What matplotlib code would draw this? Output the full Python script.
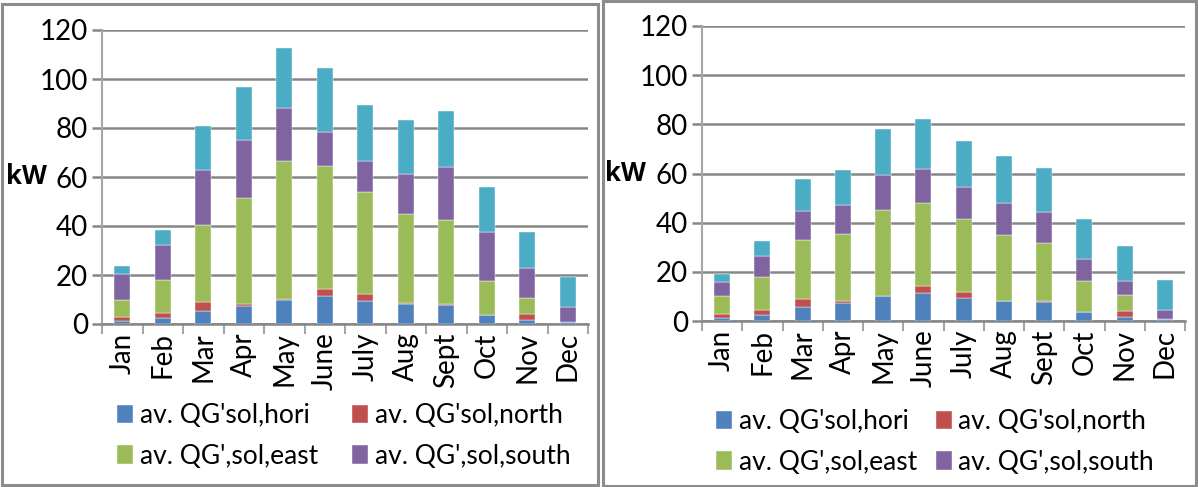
import numpy as np
import matplotlib
matplotlib.use("Agg")
import matplotlib.pyplot as plt
from matplotlib.patches import Rectangle

plt.rcParams['font.family'] = ['Lato', 'DejaVu Sans']

months = ["Jan", "Feb", "Mar", "Apr", "May", "June", "July", "Aug", "Sept", "Oct", "Nov", "Dec"]
series_names = ["av. QG'sol,hori", "av. QG'sol,north", "av. QG',sol,east",
                "av. QG',sol,south", "av. QG',sol,west"]
colors = ["#4F81BD", "#C0504D", "#9BBB59", "#8064A2", "#4BACC6"]

# left chart, kW per series
left_hori = [1.2, 2.3, 5.4, 7.5, 10.0, 11.3, 9.4, 8.2, 7.9, 3.7, 1.6, 0.7]
left_north = [1.7, 2.0, 3.6, 0.7, 0.2, 3.0, 2.7, 0.2, 0.4, 0.1, 2.6, 0.1]
left_east = [7.0, 13.5, 31.5, 43.3, 56.2, 50.2, 41.6, 36.4, 34.0, 13.9, 6.3, 0.0]
left_south = [10.6, 14.3, 22.4, 23.6, 21.6, 13.8, 13.0, 16.3, 21.6, 19.8, 12.3, 6.0]
left_west = [3.1, 6.4, 17.9, 21.5, 24.6, 26.3, 22.7, 22.3, 23.1, 18.6, 14.7, 12.4]

# right chart, kW per series
right_hori = [1.4, 2.4, 5.6, 7.4, 10.0, 11.2, 9.5, 8.1, 7.6, 3.5, 1.8, 0.7]
right_north = [1.4, 2.1, 3.5, 0.7, 0.3, 3.2, 2.4, 0.1, 0.5, 0.2, 2.4, 0.0]
right_east = [7.4, 13.4, 23.9, 27.1, 34.8, 33.8, 29.5, 26.6, 23.6, 12.4, 6.4, 0.0]
right_south = [5.8, 8.4, 11.8, 12.1, 14.4, 13.8, 13.2, 13.4, 12.6, 9.0, 5.8, 3.8]
right_west = [3.1, 6.3, 12.8, 14.1, 18.5, 20.1, 18.5, 19.1, 18.0, 16.2, 14.3, 12.0]

left_data = [left_hori, left_north, left_east, left_south, left_west]
right_data = [right_hori, right_north, right_east, right_south, right_west]

grid_col = "#868686"
fs = 20
fig = plt.figure(figsize=(11.98, 4.87), dpi=100)

# panel frames
fig.patches.append(Rectangle((2 / 1198, 1 - 485 / 487), 596 / 1198, 481 / 487,
                             transform=fig.transFigure, fill=False,
                             edgecolor="#8c8c8c", lw=2.2))
fig.patches.append(Rectangle((603 / 1198, 1 - 486 / 487), 593 / 1198, 485 / 487,
                             transform=fig.transFigure, fill=False,
                             edgecolor="#8c8c8c", lw=2.2))


def draw_panel(rect, data, legend_anchor, colspace, kw_x):
    ax = fig.add_axes(rect)
    x = np.arange(len(months))
    bottom = np.zeros(len(months))
    handles = []
    for vals, col, name in zip(data, colors, series_names):
        b = ax.bar(x, vals, 0.4, bottom=bottom, color=col, label=name,
                   edgecolor="white", linewidth=0.3, zorder=3)
        handles.append(b)
        bottom += np.array(vals)
    ax.set_xlim(-0.5, len(months) - 0.5)
    ax.set_ylim(0, 120)
    ax.set_yticks(range(0, 121, 20))
    ax.yaxis.grid(True, color=grid_col, lw=1.8, zorder=0)
    ax.set_axisbelow(True)
    for s in ["top", "right"]:
        ax.spines[s].set_visible(False)
    ax.spines["left"].set_color("#a6a6a6")
    ax.spines["left"].set_linewidth(1.5)
    ax.spines["bottom"].set_color(grid_col)
    ax.spines["bottom"].set_linewidth(1.8)
    ax.set_xticks(x)
    ax.set_xticklabels(months, rotation=90, fontsize=fs)
    ax.set_xticks(np.arange(-0.5, len(months)), minor=True)
    ax.tick_params(axis="x", which="major", length=0, pad=6)
    ax.tick_params(axis="x", which="minor", length=7, width=1.5, color="#a6a6a6")
    ax.tick_params(axis="y", length=7, width=1.8, color=grid_col, labelsize=fs, pad=3)
    ax.text(kw_x, 60, "kW", transform=ax.get_yaxis_transform(), fontsize=18.5,
            fontweight="bold", family=["Open Sans", "DejaVu Sans"],
            ha="right", va="center")
    # row-major order: hori, north / east, south
    order = [0, 2, 1, 3]
    ax.legend([handles[i] for i in order], [series_names[i] for i in order],
              loc="upper left", bbox_to_anchor=legend_anchor,
              bbox_transform=fig.transFigure, ncol=2, frameon=False,
              fontsize=19, handlelength=0.6, handleheight=0.7,
              handletextpad=0.25, columnspacing=colspace, labelspacing=0.58,
              borderpad=0)
    return ax


draw_panel([102 / 1198, 1 - 324 / 487, 486 / 1198, 294 / 487], left_data,
           (104 / 1198, 1 - 390 / 487), 1.3, -0.113)
draw_panel([702 / 1198, 1 - 321 / 487, 483 / 1198, 295 / 487], right_data,
           (703 / 1198, 1 - 396 / 487), 0.72, -0.116)

fig.savefig("out.png", dpi=100)
